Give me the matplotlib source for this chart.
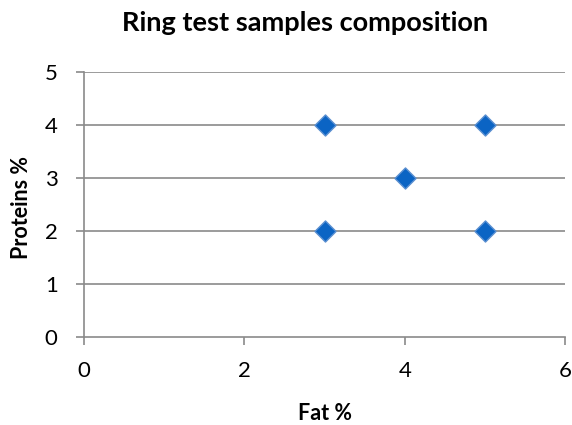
import matplotlib
matplotlib.use("Agg")
import matplotlib.pyplot as plt

# sample composition (fat %, protein %)
fat = [3, 5, 4, 3, 5]
proteins = [4, 4, 3, 2, 2]
x_ticks = [0, 2, 4, 6]
y_ticks = [0, 1, 2, 3, 4, 5]

plt.rcParams['font.family'] = ['Lato', 'DejaVu Sans']

fig = plt.figure(figsize=(5.72, 4.25), dpi=100)
ax = fig.add_axes([0.147, 0.207, 0.841, 0.624])

for y in y_ticks[1:]:
    ax.axhline(y, color='#8a8a8a', lw=1.2, zorder=1)

ax.scatter(fat, proteins, marker='D', s=115, color='#0b64c4',
           edgecolors='#5a8fd0', linewidths=1.0, zorder=3)

ax.set_xlim(0, 6)
ax.set_ylim(0, 5)
ax.set_xticks(x_ticks)
ax.set_yticks(y_ticks)
ax.tick_params(direction='out', length=6, width=1.2, color='#8a8a8a',
               labelsize=16)
ax.tick_params(axis='x', pad=11)
ax.tick_params(axis='y', pad=13)

for side in ('top', 'right'):
    ax.spines[side].set_visible(False)
for side in ('left', 'bottom'):
    ax.spines[side].set_color('#8a8a8a')
    ax.spines[side].set_linewidth(1.2)

ax.set_xlabel('Fat %', fontsize=15.5, fontweight='bold', va='center')
ax.xaxis.set_label_coords(0.5, -0.288)
ax.set_ylabel('Proteins %', fontsize=15.5, fontweight='bold', va='center')
ax.yaxis.set_label_coords(-0.13, 0.49)

fig.text(0.533, 0.926, 'Ring test samples composition', ha='center',
         va='baseline', fontsize=19.5, fontweight='bold')

fig.savefig('out.png', dpi=100)
